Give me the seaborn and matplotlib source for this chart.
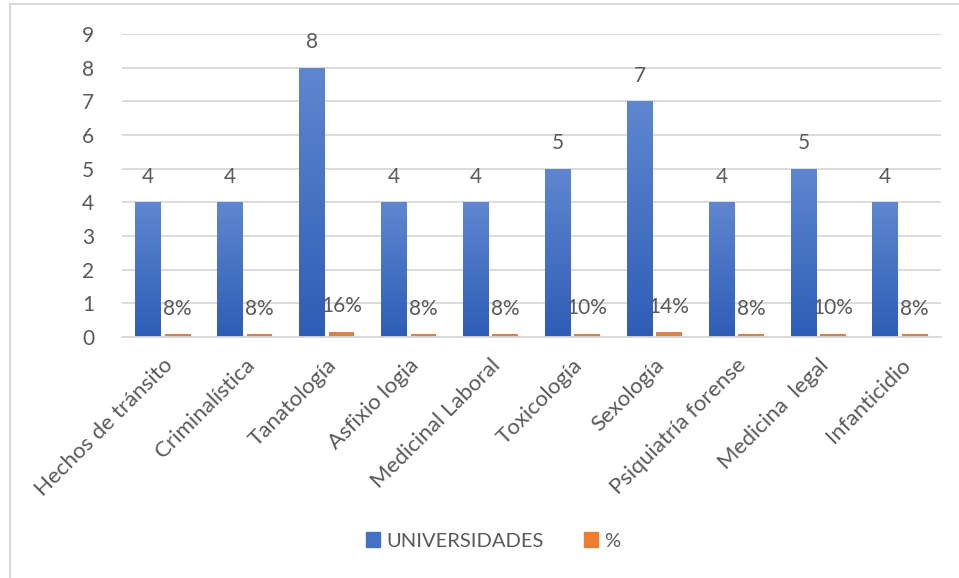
import numpy as np
import pandas as pd
import matplotlib
matplotlib.use("Agg")
import matplotlib.pyplot as plt
import seaborn as sns
from matplotlib.patches import Rectangle
from matplotlib.colors import LinearSegmentedColormap

categories = ["Hechos de tránsito", "Criminalística", "Tanatología", "Asfixio logia",
              "Medicinal Laboral", "Toxicología", "Sexología", "Psiquiatría forense",
              "Medicina  legal", "Infanticidio"]
universidades = [4, 4, 8, 4, 4, 5, 7, 4, 5, 4]
porcentaje = [0.08, 0.08, 0.16, 0.08, 0.08, 0.10, 0.14, 0.08, 0.10, 0.08]
series_names = ["UNIVERSIDADES", "%"]
yticks = list(range(0, 10))

sns.set_theme(style="white")
plt.rcParams['font.family'] = ['Lato', 'DejaVu Sans']
TXT = "#595959"
GRID = "#d9d9d9"
BLUE = "#4472C4"
ORANGE = "#ED7D31"

df = pd.DataFrame({
    "cat": categories * 2,
    "serie": [series_names[0]] * len(categories) + [series_names[1]] * len(categories),
    "val": universidades + porcentaje,
})

fig = plt.figure(figsize=(9.59, 5.78), dpi=100)
ax = fig.add_axes([122/959, 1-337/578, (941-122)/959, (337-34)/578])

sns.barplot(data=df, x="cat", y="val", hue="serie", order=categories,
            hue_order=series_names, palette=[BLUE, ORANGE], width=0.72, gap=0.13,
            ax=ax, legend=True, edgecolor="none", linewidth=0)

ax.set_ylim(0, 9)
ax.set_xlim(-0.5, len(categories) - 0.5)
ax.set_yticks(yticks)
ax.yaxis.grid(True, color=GRID, linewidth=1.3)
ax.set_axisbelow(True)
for s in ["top", "right", "left"]:
    ax.spines[s].set_visible(False)
ax.spines["bottom"].set_color(GRID)
ax.spines["bottom"].set_linewidth(1.3)
ax.tick_params(axis="both", length=0, colors=TXT)
ax.tick_params(axis="y", pad=20, labelsize=15)
ax.tick_params(axis="x", pad=13, labelsize=16)
ax.set_xlabel("")
ax.set_ylabel("")
plt.setp(ax.get_xticklabels(), rotation=45, ha="right", rotation_mode="anchor")

# gradient on blue bars
cont_u, cont_p = ax.containers[0], ax.containers[1]
grad = np.linspace(0, 1, 256).reshape(-1, 1)
cmap = LinearSegmentedColormap.from_list("g", ["#2e5db6", "#5f87d0"])
for p in cont_u.patches:
    x0, y0 = p.get_x(), p.get_y()
    w, h = p.get_width(), p.get_height()
    im = ax.imshow(grad, cmap=cmap, origin="lower", aspect="auto",
                   extent=[x0, x0 + w, y0, y0 + h], zorder=p.get_zorder() + 0.1)
    im.set_clip_path(p)
ax.set_xlim(-0.5, len(categories) - 0.5)
ax.set_ylim(0, 9)

ax.bar_label(cont_u, labels=[f"{v:g}" for v in universidades], padding=11,
             color=TXT, fontsize=15)
ax.bar_label(cont_p, labels=[f"{round(v*100)}%" for v in porcentaje], padding=11,
             color=TXT, fontsize=15)

leg = ax.get_legend()
leg.remove()
handles = [Rectangle((0, 0), 1, 1, color=BLUE), Rectangle((0, 0), 1, 1, color=ORANGE)]
fig.legend(handles, series_names, loc="center", bbox_to_anchor=(0.514, 1-541/578),
           ncol=2, frameon=False, fontsize=14.5, labelcolor=TXT,
           handlelength=0.7, handleheight=0.7, handletextpad=0.3, columnspacing=2.0)

fig.patches.append(Rectangle((10/959, -0.1), 1.1, 1 - 4/578 + 0.1, transform=fig.transFigure,
                             fill=False, edgecolor=GRID, linewidth=1.5))

fig.savefig("out.png", dpi=100, facecolor="white")
